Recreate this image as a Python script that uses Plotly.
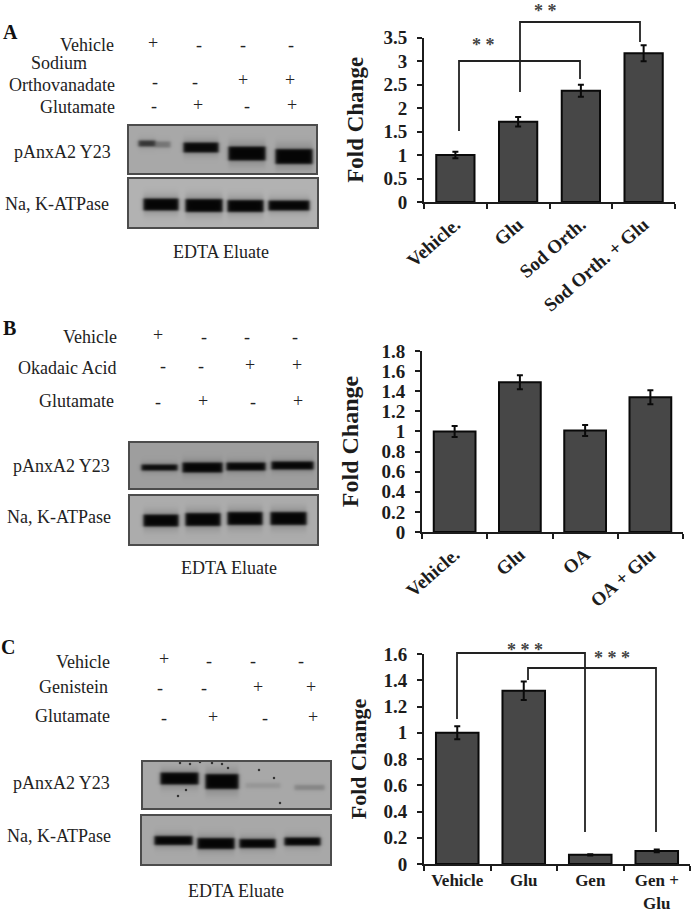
import numpy as np
import plotly.graph_objects as go

W, H = 693, 912
SERIF = "Liberation Serif"
INK = "#1c1c1c"

# ---- bar chart data ----
cats_a = ["Vehicle.", "Glu", "Sod Orth.", "Sod Orth. + Glu"]
vals_a = [1.0, 1.71, 2.37, 3.17]
errs_a = [0.07, 0.10, 0.13, 0.17]
cats_b = ["Vehicle.", "Glu", "OA", "OA + Glu"]
vals_b = [1.0, 1.49, 1.01, 1.34]
errs_b = [0.055, 0.07, 0.055, 0.07]
cats_c = ["Vehicle", "Glu", "Gen", "Gen +<br>Glu"]
vals_c = [1.0, 1.32, 0.07, 0.10]
errs_c = [0.05, 0.07, 0.005, 0.01]

# ---- treatment tables: (label, right edge, y, [(symbol, x, y), ...]) ----
rows_a = [
    ("Vehicle", 116, 45, [("+", 153, 43), ("-", 199, 45), ("-", 243, 45), ("-", 291, 45)]),
    ("Sodium", 89, 63, []),
    ("Orthovanadate", 117, 85, [("-", 155, 82), ("-", 195, 82), ("+", 243, 80), ("+", 290, 80)]),
    ("Glutamate", 117, 107, [("-", 154, 106), ("+", 198, 105), ("-", 247, 106), ("+", 292, 105)]),
]
rows_b = [
    ("Vehicle", 119, 337, [("+", 158, 335), ("-", 204, 337), ("-", 247, 337), ("-", 295, 337)]),
    ("Okadaic Acid", 118, 368, [("-", 163, 366), ("-", 201, 366), ("+", 250, 365), ("+", 297, 365)]),
    ("Glutamate", 116, 401, [("-", 158, 402), ("+", 203, 401), ("-", 253, 402), ("+", 298, 401)]),
]
rows_c = [
    ("Vehicle", 112, 662, [("+", 164, 659), ("-", 209, 661), ("-", 253, 661), ("-", 301, 661)]),
    ("Genistein", 110, 687, [("-", 160, 688), ("-", 204, 688), ("+", 258, 687), ("+", 311, 687)]),
    ("Glutamate", 112, 716, [("-", 164, 718), ("+", 213, 717), ("-", 265, 718), ("+", 313, 717)]),
]

# ---- blots: box, background gray, bands (x0, x1, yc, thickness, darkness) ----
blots = [
    ((128, 317, 125, 174), 168, [(138, 155, 143, 5, 0.7), (155, 170, 144, 5, 0.3), (183, 218, 147, 9, 0.98), (228, 265, 153, 13, 1), (275, 312, 156, 14, 1)]),
    ((128, 318, 178, 228), 178, [(143, 178, 204, 11, 1), (185, 222, 205, 12, 1), (227, 263, 205.5, 11, 1), (268, 309, 205, 9, 1)]),
    ((129, 318, 442, 489), 158, [(141, 177, 467, 5, 0.97), (182, 222, 467, 9, 1), (226, 265, 466, 7, 1), (271, 313, 465, 7, 1)]),
    ((129, 318, 495, 545), 172, [(143, 178, 520, 11, 1), (185, 220, 519, 12, 1), (227, 262, 518, 12, 1), (270, 306, 518, 12, 1)]),
    ((142, 331, 761, 809), 168, [(160, 198, 778, 11, 1), (205, 238, 781, 14, 1), (245, 280, 785, 4, 0.1), (294, 324, 787, 4, 0.2)]),
    ((141, 331, 815, 865), 168, [(154, 192, 840, 8, 1), (197, 234, 843, 10, 1), (239, 275, 843, 8, 1), (284, 320, 841, 7, 1)]),
]
specks_x = [274, 180, 190, 200, 212, 222, 178, 186, 228, 259, 280]
specks_y = [778, 763, 764, 762, 763, 764, 796, 790, 768, 770, 803]
blot_labels = [
    ("pAnxA2 Y23", 113, 152), ("Na, K-ATPase", 111, 204),
    ("pAnxA2 Y23", 112, 466), ("Na, K-ATPase", 113, 517),
    ("pAnxA2 Y23", 112, 783), ("Na, K-ATPase", 113, 836),
]
eluates = [(221, 252), (229, 568), (236, 891)]
letters = [("A", 10, 32), ("B", 9, 328), ("C", 8, 647)]

# ---- significance brackets: polyline points and star labels ----
brackets = [
    [(459, 131), (459, 61), (580, 61), (580, 79)],
    [(520, 92), (520, 22), (640, 22), (640, 42)],
    [(457, 719), (457, 653), (585, 653), (585, 832)],
    [(528, 680), (528, 668), (656, 668), (656, 832)],
]
stars = [("* *", 483, 45), ("* *", 545, 11), ("* * *", 525, 650), ("* * *", 612, 658)]

# ---- panel frames in page pixels: left, right, top, bottom ----
frames = [
    (cats_a, vals_a, errs_a, (424, 675, 37.7, 202), 3.5, 0.5, 0.39, -41, 19, 23, 13, 2),
    (cats_b, vals_b, errs_b, (422, 683, 351, 532), 1.8, 0.2, 0.36, -41, 19, 24, 16, 2),
    (cats_c, vals_c, errs_c, (424, 690, 654, 864), 1.6, 0.2, 0.36, 0, 17, 22, 11, 0),
]

fig = go.Figure()
layout = {}
for i, (cats, vals, errs, (l, r, t, b), ymax, dt, gap, ang, fs, tfs, so, xso) in enumerate(frames, start=1):
    sfx = "" if i == 1 else str(i)
    fig.add_trace(go.Bar(
        x=cats, y=vals, xaxis="x" + sfx, yaxis="y" + sfx, width=1 - gap,
        marker=dict(color="#474747", line=dict(color="#0a0a0a", width=2)),
        error_y=dict(type="data", array=errs, color="#0a0a0a", thickness=2, width=3),
        showlegend=False,
    ))
    layout["xaxis" + sfx] = dict(
        domain=[l / W, r / W], anchor="y" + sfx, type="category", categoryorder="array",
        categoryarray=cats, tickson="boundaries", ticks="outside", ticklen=5, tickwidth=2,
        tickcolor=INK, showline=True, linewidth=2, linecolor=INK, showgrid=False,
        tickangle=ang, tickfont=dict(family=SERIF, size=fs, color=INK, weight="bold"),
        automargin=False, ticklabelstandoff=xso,
    )
    layout["yaxis" + sfx] = dict(
        domain=[1 - b / H, 1 - t / H], anchor="x" + sfx, range=[0, ymax], dtick=dt,
        ticks="outside", ticklen=5, tickwidth=2, tickcolor=INK, showline=True, linewidth=2,
        linecolor=INK, showgrid=False, zeroline=False, automargin=False, ticklabelstandoff=6,
        tickfont=dict(family=SERIF, size=19, color=INK, weight="bold"),
        title=dict(text="Fold Change", standoff=so,
                   font=dict(family=SERIF, size=tfs, color=INK, weight="bold")),
    )

# overlay in page pixels for the blots and labels
layout["xaxis4"] = dict(domain=[0, 1], range=[0, W], visible=False, anchor="y4", fixedrange=True)
layout["yaxis4"] = dict(domain=[0, 1], range=[H, 0], visible=False, anchor="x4", fixedrange=True)

shapes, annos = [], []


def text(s, x, y, size=18, anchor="center", bold=False, color="#222222", family=SERIF):
    annos.append(dict(text=s, x=x, y=y, xref="x4", yref="y4", xanchor=anchor, yanchor="middle",
                      showarrow=False, font=dict(family=family, size=size, color=color,
                                                 weight="bold" if bold else "normal")))


for (x0, x1, y0, y1), bg, bands in blots:
    xs = np.arange(x0, x1 + 1)
    ys = np.arange(y0, y1 + 1)
    X, Y = np.meshgrid(xs, ys)
    z = np.full(X.shape, float(bg))
    for bx0, bx1, yc, th, dark in bands:
        sx = 0.5 * (np.tanh((X - bx0) / 2.0) - np.tanh((X - bx1) / 2.0))
        sy = 0.5 * (np.tanh((Y - (yc - th / 2 - 0.5)) / 1.5) - np.tanh((Y - (yc + th / 2 + 0.5)) / 1.5))
        halo = 0.5 * (np.tanh((Y - (yc - th)) / 4.0) - np.tanh((Y - (yc + th)) / 4.0))
        z = z * (1 - 0.12 * dark * sx * halo)
        z = z * (1 - dark * sx * sy) + 5 * dark * sx * sy
    fig.add_trace(go.Heatmap(x=xs, y=ys, z=z.round(0), xaxis="x4", yaxis="y4", zmin=0, zmax=255,
                             colorscale=[[0, "#000000"], [1, "#ffffff"]], showscale=False,
                             hoverinfo="skip"))
    shapes.append(dict(type="rect", xref="x4", yref="y4", x0=x0, x1=x1, y0=y0, y1=y1,
                       line=dict(color="#4c4c4c", width=2), layer="above"))

fig.add_trace(go.Scatter(x=specks_x, y=specks_y, xaxis="x4", yaxis="y4", mode="markers",
                         marker=dict(color="#333333", size=2.5), hoverinfo="skip", showlegend=False))

for rows in (rows_a, rows_b, rows_c):
    for label, right, y, marks in rows:
        text(label, right, y, anchor="right")
        for sym, mx, my in marks:
            text(sym, mx, my, size=18)

for label, right, y in blot_labels:
    text(label, right, y, anchor="right")
for x, y in eluates:
    text("EDTA Eluate", x, y)
for s, x, y in letters:
    text(s, x, y, size=20, bold=True, color="#111111")

for pts in brackets:
    path = "M " + " L ".join(f"{x} {y}" for x, y in pts)
    shapes.append(dict(type="path", path=path, xref="x4", yref="y4",
                       line=dict(color="#222222", width=1.8), layer="above"))
for s, x, y in stars:
    text(s, x, y, size=18, bold=True, color="#444444")

fig.update_layout(
    width=W, height=H, autosize=False, margin=dict(l=0, r=0, t=0, b=0, pad=0),
    paper_bgcolor="white", plot_bgcolor="rgba(0,0,0,0)", showlegend=False,
    shapes=shapes, annotations=annos, **layout,
)
fig.write_html("out.html", config={"displayModeBar": False}, post_script="document.body.style.margin='0';")
